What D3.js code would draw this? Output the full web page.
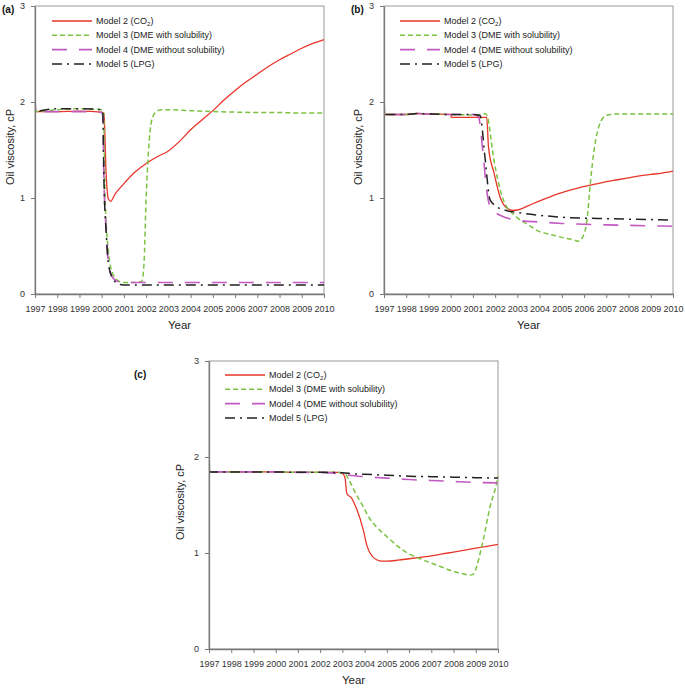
<!DOCTYPE html>
<html><head><meta charset="utf-8">
<script src="https://cdn.jsdelivr.net/npm/d3@7/dist/d3.min.js"></script>
<style>
body{margin:0;background:#fff;}
svg{display:block;font-family:"Liberation Sans",Arial,sans-serif;}
</style></head>
<body>
<script>
// ---------- data ----------
const xTickValues = [1997,1998,1999,2000,2001,2002,2003,2004,2005,2006,2007,2008,2009,2010];
const yTickValues = [0,1,2,3];
const seriesLabels = [["Model 2 (CO","2",")"],["Model 3 (DME with solubility)"],["Model 4 (DME without solubility)"],["Model 5 (LPG)"]];

// Panel (a)
const aModel2 = [[1997,2.09],[1997.03,1.90],[1998,1.90],[1999,1.905],[2000,1.895],[2000.1,1.88],[2000.2,1.25],[2000.3,0.99],[2000.4,0.965],[2000.6,1.04],[2001,1.15],[2001.5,1.27],[2002,1.36],[2002.5,1.43],[2003,1.49],[2003.5,1.59],[2004,1.71],[2004.5,1.81],[2005,1.91],[2005.5,2.02],[2006,2.12],[2006.5,2.21],[2007,2.29],[2007.5,2.37],[2008,2.44],[2008.5,2.50],[2009,2.56],[2009.5,2.61],[2010,2.65]];
const aModel3 = [[1997,2.09],[1997.03,1.90],[1997.5,1.91],[1998,1.92],[1999,1.93],[2000,1.92],[2000.08,1.90],[2000.15,1.05],[2000.3,0.45],[2000.5,0.21],[2000.8,0.13],[2001,0.12],[2001.5,0.12],[2001.8,0.13],[2001.9,0.3],[2002,1.0],[2002.1,1.47],[2002.25,1.81],[2002.45,1.90],[2002.7,1.92],[2003,1.92],[2004,1.91],[2005,1.90],[2006,1.895],[2007,1.89],[2008,1.89],[2009,1.885],[2010,1.885]];
const aModel4 = [[1997,2.09],[1997.03,1.90],[1998,1.90],[1999,1.90],[2000,1.89],[2000.05,1.85],[2000.1,1.2],[2000.2,0.67],[2000.3,0.33],[2000.5,0.17],[2000.8,0.125],[2001,0.12],[2002,0.12],[2003,0.12],[2004,0.12],[2005,0.12],[2006,0.12],[2007,0.12],[2008,0.12],[2009,0.12],[2010,0.12]];
const aModel5 = [[1997,2.09],[1997.03,1.90],[1997.5,1.92],[1998,1.93],[1999,1.93],[2000,1.92],[2000.05,1.88],[2000.1,1.2],[2000.2,0.65],[2000.3,0.32],[2000.5,0.16],[2000.8,0.10],[2001,0.095],[2002,0.095],[2003,0.095],[2004,0.095],[2005,0.095],[2006,0.095],[2007,0.095],[2008,0.095],[2009,0.095],[2010,0.095]];

// Panel (b)
const bModel2 = [[1997,2.09],[1997.03,1.87],[1998,1.87],[1998.5,1.88],[1999,1.875],[2000,1.87],[2000.03,1.84],[2001,1.84],[2001.62,1.84],[2001.7,1.53],[2001.95,1.26],[2002.22,1.01],[2002.5,0.90],[2002.8,0.87],[2003,0.875],[2003.5,0.92],[2004,0.97],[2004.5,1.015],[2005,1.055],[2005.5,1.09],[2006,1.12],[2006.5,1.145],[2007,1.17],[2007.5,1.19],[2008,1.21],[2008.5,1.23],[2009,1.245],[2009.5,1.26],[2010,1.28]];
const bModel3 = [[1997,2.09],[1997.03,1.87],[1998,1.87],[1998.5,1.88],[1999,1.875],[2000,1.87],[2001,1.865],[2001.4,1.87],[2001.55,1.88],[2001.65,1.85],[2001.92,1.43],[2002.37,0.98],[2002.97,0.80],[2003.5,0.72],[2004,0.65],[2004.5,0.62],[2005,0.59],[2005.5,0.565],[2005.75,0.55],[2005.95,0.6],[2006.12,0.75],[2006.3,1.2],[2006.45,1.5],[2006.72,1.78],[2007,1.86],[2007.4,1.875],[2008,1.875],[2009,1.875],[2010,1.875]];
const bModel4 = [[1997,2.09],[1997.03,1.87],[1998,1.87],[1998.5,1.88],[1999,1.875],[2000,1.87],[2001,1.87],[2001.24,1.85],[2001.47,1.43],[2001.62,1.08],[2001.77,0.91],[2002,0.85],[2002.22,0.82],[2003.12,0.765],[2004,0.75],[2005,0.735],[2006,0.726],[2007,0.72],[2008,0.715],[2009,0.71],[2010,0.705]];
const bModel5 = [[1997,2.09],[1997.03,1.87],[1998,1.87],[1998.5,1.88],[1999,1.875],[2000,1.87],[2001,1.87],[2001.32,1.86],[2001.54,1.43],[2001.77,0.98],[2002.07,0.91],[2002.5,0.87],[2003.12,0.845],[2004,0.82],[2005,0.80],[2006,0.79],[2007,0.785],[2008,0.78],[2009,0.775],[2010,0.77]];

// Panel (c)
const cModel2 = [[1997,2.09],[1997.03,1.845],[1998,1.845],[1999,1.845],[2000,1.845],[2001,1.84],[2002,1.84],[2002.8,1.84],[2003.0,1.83],[2003.12,1.78],[2003.2,1.62],[2003.42,1.57],[2003.64,1.46],[2003.94,1.24],[2004.1,1.08],[2004.24,1.0],[2004.54,0.93],[2004.8,0.915],[2005,0.915],[2005.5,0.925],[2006,0.94],[2006.5,0.955],[2007,0.97],[2007.5,0.99],[2008,1.01],[2008.5,1.03],[2009,1.05],[2009.5,1.07],[2010,1.09]];
const cModel3 = [[1997,2.09],[1997.03,1.845],[1998,1.845],[1999,1.845],[2000,1.845],[2001,1.84],[2002,1.84],[2002.8,1.84],[2003.1,1.83],[2003.3,1.76],[2003.6,1.62],[2003.94,1.48],[2004.2,1.37],[2004.54,1.27],[2005,1.17],[2005.44,1.08],[2006,0.99],[2006.5,0.94],[2006.94,0.90],[2007.4,0.86],[2007.84,0.82],[2008.3,0.79],[2008.74,0.77],[2008.9,0.78],[2009.04,0.86],[2009.2,1.0],[2009.34,1.14],[2009.64,1.48],[2009.94,1.73],[2010,1.80]];
const cModel4 = [[1997,2.09],[1997.03,1.845],[1998,1.845],[1999,1.845],[2000,1.845],[2001,1.84],[2002,1.84],[2002.5,1.835],[2003,1.82],[2003.3,1.81],[2004,1.795],[2005,1.78],[2006,1.765],[2007,1.755],[2008,1.745],[2009,1.735],[2010,1.73]];
const cModel5 = [[1997,2.09],[1997.03,1.845],[1998,1.845],[1999,1.845],[2000,1.845],[2001,1.84],[2002,1.84],[2003,1.835],[2003.5,1.825],[2004,1.82],[2005,1.81],[2006,1.80],[2007,1.795],[2008,1.79],[2009,1.785],[2010,1.78]];

// ---------- styles ----------
const colors = ["#e8352a","#7cc242","#c25ac2","#222222"];
const dashes = [null,"5,3","15,12","10,5,2,5"];
const widths = [1.3,1.5,1.6,1.5];

const panels = [
  {label:"(a)", series:[aModel2,aModel3,aModel4,aModel5], box:{l:35,r:324,t:6,b:294}, lab:[2,13], leg:[52,21], ytx:10},
  {label:"(b)", series:[bModel2,bModel3,bModel4,bModel5], box:{l:384,r:673,t:6,b:294}, lab:[351,13], leg:[400,21], ytx:358},
  {label:"(c)", series:[cModel2,cModel3,cModel4,cModel5], box:{l:209,r:498,t:361,b:649}, lab:[134,378], leg:[225,375], ytx:180}
];

const W=685,H=688;
const svg = d3.select("body").append("svg").attr("width",W).attr("height",H);
const axisColor = "#7a7a7a";
const textColor = "#333";

panels.forEach((p,pi)=>{
  const b=p.box;
  const x=d3.scaleLinear().domain([1997,2010]).range([b.l,b.r]);
  const y=d3.scaleLinear().domain([0,3]).range([b.b,b.t]);
  const g=svg.append("g");

  g.append("rect").attr("x",b.l).attr("y",b.t).attr("width",b.r-b.l).attr("height",b.b-b.t)
    .attr("fill","none").attr("stroke","#9a9a9a").attr("stroke-width",1);

  const clipId="clip"+pi;
  svg.append("clipPath").attr("id",clipId).append("rect")
    .attr("x",b.l).attr("y",b.t-2).attr("width",b.r-b.l+1).attr("height",b.b-b.t+2);

  const line=d3.line().x(d=>x(d[0])).y(d=>y(d[1])).curve(d3.curveMonotoneX);
  const lg=g.append("g").attr("clip-path",`url(#${clipId})`);
  p.series.forEach((s,i)=>{
    lg.append("path").datum(s).attr("d",line).attr("fill","none")
      .attr("stroke",colors[i]).attr("stroke-width",widths[i])
      .attr("stroke-dasharray",dashes[i]);
  });

  const xa=g.append("g").attr("transform",`translate(0,${b.b})`)
    .call(d3.axisBottom(x).tickValues(xTickValues).tickFormat(d3.format("d")).tickSize(4).tickPadding(8).tickSizeOuter(0));
  const ya=g.append("g").attr("transform",`translate(${b.l},0)`)
    .call(d3.axisLeft(y).tickValues(yTickValues).tickFormat(d3.format("d")).tickSize(4).tickPadding(6).tickSizeOuter(0));
  [xa,ya].forEach(a=>{
    a.select(".domain").attr("stroke",axisColor).attr("stroke-width",1.3);
    a.selectAll(".tick line").attr("stroke",axisColor);
    a.selectAll(".tick text").attr("fill",textColor).style("font-size","9px").style("font-family","'Liberation Sans',Arial,sans-serif");
  });

  g.append("text").attr("x",(b.l+b.r)/2).attr("y",b.b+35).attr("text-anchor","middle")
    .attr("fill","#222").style("font-size","11.5px").text("Year");
  g.append("text").attr("transform",`translate(${p.ytx},${(b.t+b.b)/2-3}) rotate(-90)`)
    .attr("text-anchor","middle").attr("dy","0.35em").attr("fill","#222").style("font-size","11px").text("Oil viscosity, cP");
  g.append("text").attr("x",p.lab[0]).attr("y",p.lab[1]).attr("fill","#111")
    .style("font-size","10px").style("font-weight","bold").text(p.label);

  seriesLabels.forEach((parts,i)=>{
    const ly=p.leg[1]+i*14.3;
    g.append("line").attr("x1",p.leg[0]).attr("x2",p.leg[0]+40).attr("y1",ly).attr("y2",ly)
      .attr("stroke",colors[i]).attr("stroke-width",widths[i]).attr("stroke-dasharray",dashes[i]);
    const t=g.append("text").attr("x",p.leg[0]+44).attr("y",ly).attr("dy","0.35em")
      .attr("fill","#222").style("font-size","9px");
    t.append("tspan").text(parts[0]);
    if(parts.length>1){
      t.append("tspan").attr("dy","2").style("font-size","6px").text(parts[1]);
      t.append("tspan").attr("dy","-2").text(parts[2]);
    }
  });
});
</script>
</body></html>
